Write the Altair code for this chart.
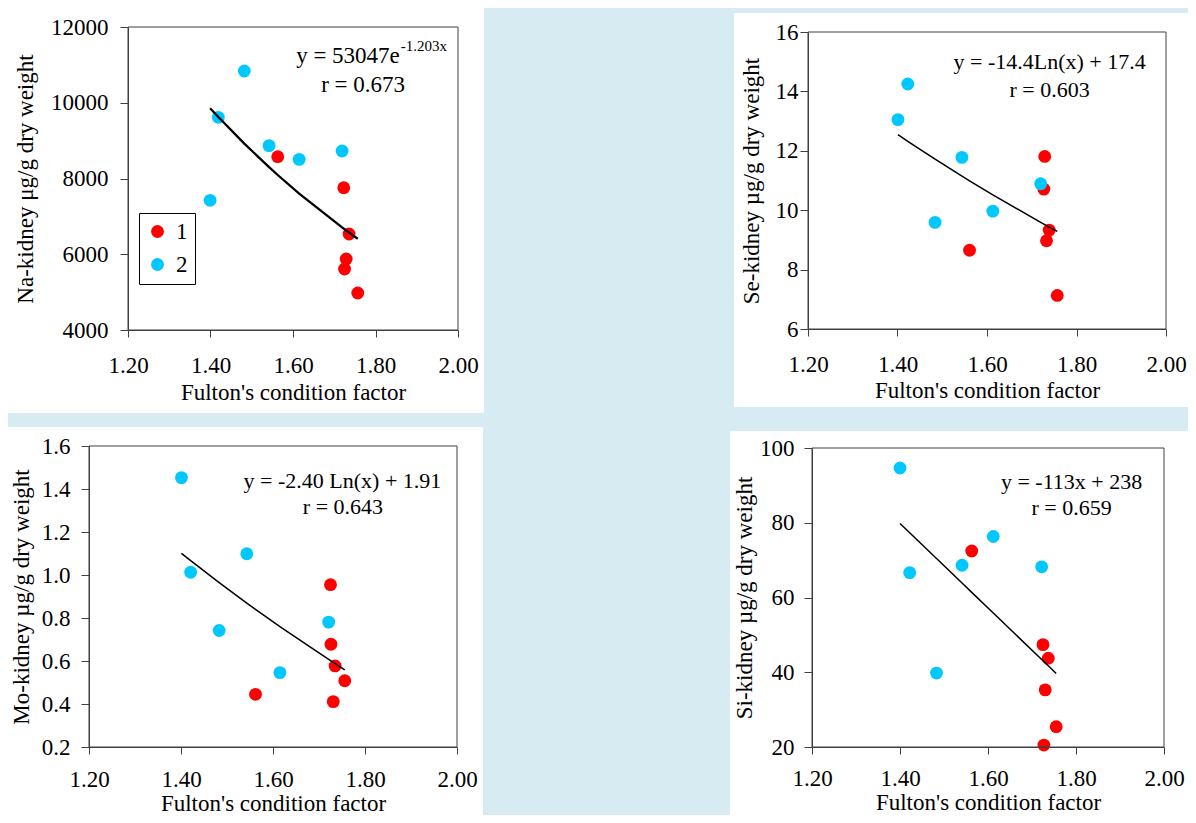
import altair as alt
import pandas as pd

FONT = "Liberation Serif"
RED = "#ff0000"
BLUE = "#00c8ff"
BG = "#d7ecf2"
AXC = "#404040"

group = ["1"] * 6 + ["2"] * 6
x_ticks = [1.2, 1.4, 1.6, 1.8, 2.0]
x_title = "Fulton's condition factor"

# Na-kidney
na_x = [1.563, 1.723, 1.736, 1.729, 1.725, 1.757, 1.399, 1.419, 1.482, 1.542, 1.615, 1.719]
na_y = [8576, 7757, 6535, 5875, 5611, 4977, 7424, 9615, 10838, 8867, 8506, 8726]
na_ticks = [4000, 6000, 8000, 10000, 12000]
na_fit = (53047, -1.203)
# Se-kidney
se_x = [1.561, 1.729, 1.727, 1.739, 1.733, 1.757, 1.401, 1.423, 1.484, 1.544, 1.613, 1.720]
se_y = [8.65, 11.81, 10.71, 9.33, 8.97, 7.13, 13.05, 14.25, 9.59, 11.78, 9.97, 10.89]
se_ticks = [6, 8, 10, 12, 14, 16]
se_fit = (-14.4, 17.4)
# Mo-kidney
mo_x = [1.562, 1.725, 1.726, 1.735, 1.756, 1.731, 1.401, 1.421, 1.483, 1.543, 1.615, 1.721]
mo_y = [0.445, 0.955, 0.678, 0.577, 0.508, 0.411, 1.453, 1.013, 0.742, 1.099, 0.546, 0.781]
mo_ticks = [0.2, 0.4, 0.6, 0.8, 1.0, 1.2, 1.4, 1.6]
mo_fit = (-2.40, 1.91)
# Si-kidney
si_x = [1.563, 1.725, 1.737, 1.730, 1.755, 1.727, 1.400, 1.422, 1.483, 1.541, 1.612, 1.722]
si_y = [72.44, 47.39, 43.76, 35.29, 25.44, 20.52, 94.64, 66.65, 39.78, 68.64, 76.33, 68.21]
si_ticks = [20, 40, 60, 80, 100]
si_fit = (-113, 238)


def panel(xs, ys, fit_expr, ytitle, yticks, yfmt, cell, plot, white, ypad, xpad,
          texts, line_w, legend=None):
    cw, ch = cell
    pl, pt, pr, pb = plot
    df = pd.DataFrame({"x": xs, "y": ys, "group": group})
    one = pd.DataFrame({"k": [0]})
    xsc = alt.Scale(domain=[1.2, 2.0], range=[pl, pr], nice=False, zero=False)
    ysc = alt.Scale(domain=[yticks[0], yticks[-1]], range=[pb, pt], nice=False, zero=False)
    xax = alt.Axis(values=x_ticks, format=".2f", title=x_title, tickSize=7,
                   labelPadding=xpad[0], titlePadding=xpad[1], zindex=2,
                   labelFlush=False, grid=False, offset=pb - ch)
    yax = alt.Axis(values=yticks, format=yfmt, title=ytitle, tickSize=8,
                   labelPadding=ypad[0], titlePadding=ypad[1], zindex=2,
                   labelFlush=False, grid=False, offset=-pl)
    X = lambda f: alt.X(f, scale=xsc, axis=xax)
    Y = lambda f: alt.Y(f, scale=ysc, axis=yax)
    wl, wt, wr, wb = white
    bg = alt.Chart(one).mark_rect(fill="white", strokeWidth=0).encode(
        x=alt.value(wl), x2=alt.value(wr), y=alt.value(wt), y2=alt.value(wb))
    pts = alt.Chart(df).mark_circle(size=165, opacity=1).encode(
        x=X("x:Q"), y=Y("y:Q"),
        color=alt.Color("group:N", scale=alt.Scale(domain=["1", "2"], range=[RED, BLUE]),
                        legend=legend))
    line = alt.Chart(df).transform_calculate(fit=fit_expr).mark_line(
        color="black", strokeWidth=line_w).encode(x=X("x:Q"), y=Y("fit:Q"), order="x:Q")
    frame = alt.Chart(one).mark_rect(filled=False, stroke=AXC, strokeWidth=1).encode(
        x=alt.value(pl), x2=alt.value(pr), y=alt.value(pt), y2=alt.value(pb))
    layers = [bg, pts, line, frame]
    for (tx, ty, label, size, align) in texts:
        tdf = pd.DataFrame({"x": [tx], "y": [ty], "label": [label]})
        layers.append(alt.Chart(tdf).mark_text(font=FONT, fontSize=size, align=align,
                                               baseline="alphabetic", color="black").encode(
            x=X("x:Q"), y=Y("y:Q"), text="label:N"))
    return alt.layer(*layers).properties(width=cw, height=ch)


legend1 = alt.Legend(title=None, orient="none", legendX=131, legendY=205,
                     direction="vertical", symbolType="circle", symbolSize=165,
                     symbolOpacity=1, symbolStrokeWidth=0, labelFont=FONT,
                     labelFontSize=23, labelOffset=7, strokeColor="black",
                     fillColor="white", padding=7, rowPadding=9, cornerRadius=0)

p1 = panel(na_x, na_y, f"{na_fit[0]}*exp({na_fit[1]}*datum.x)",
           "Na-kidney μg/g dry weight", na_ticks, "d",
           (476, 405), (120, 19, 450, 322), (0, 0, 476, 405), (12, 13), (17, 4),
           [(1.859, 11057, "y = 53047e", 23, "right"),
            (1.861, 11374, "-1.203x", 15, "left"),
            (1.770, 10292, "r = 0.673", 23, "center")], 2.3, legend1)

p2 = panel(se_x, se_y, f"{se_fit[0]}*log(datum.x)+{se_fit[1]}",
           "Se-kidney µg/g dry weight", se_ticks, "d",
           (456, 405), (76, 24, 434, 321), (2, 5, 456, 399), (2, 12), (17, 3),
           [(1.740, 14.74, "y = -14.4Ln(x) + 17.4", 22, "center"),
            (1.740, 13.82, "r = 0.603", 22, "center")], 1.5)

p3 = panel(mo_x, mo_y, f"{mo_fit[0]}*log(datum.x)+{mo_fit[1]}",
           "Mo-kidney µg/g dry weight", mo_ticks, ".1f",
           (476, 390), (81, 21, 449, 322), (0, 2, 475, 390), (11, 8), (14, 1),
           [(1.751, 1.405, "y = -2.40 Ln(x) + 1.91", 22, "center"),
            (1.752, 1.282, "r = 0.643", 22, "center")], 1.5)

p4 = panel(si_x, si_y, f"{si_fit[0]}*datum.x+{si_fit[1]}",
           "Si-kidney µg/g dry weight", si_ticks, "d",
           (456, 390), (80, 23, 432, 322), (-2, 6, 456, 390), (10, 3), (13, 1),
           [(1.790, 88.95, "y = -113x + 238", 22, "center"),
            (1.790, 82.2, "r = 0.659", 22, "center")], 1.5)

chart = alt.concat(p1, p2, p3, p4, columns=2, bounds="flush",
                   spacing={"row": 12, "column": 248}).resolve_legend(
    color="independent").properties(background=BG, padding=0
).configure_view(strokeWidth=0).configure_axis(
    labelFont=FONT, labelFontSize=23, titleFont=FONT, titleFontSize=23,
    titleFontWeight="normal", labelColor="black", titleColor="black",
    domainColor=AXC, tickColor=AXC, labelOverlap=False
)

chart.save("out.html", embed_options={"renderer": "svg", "actions": False})
